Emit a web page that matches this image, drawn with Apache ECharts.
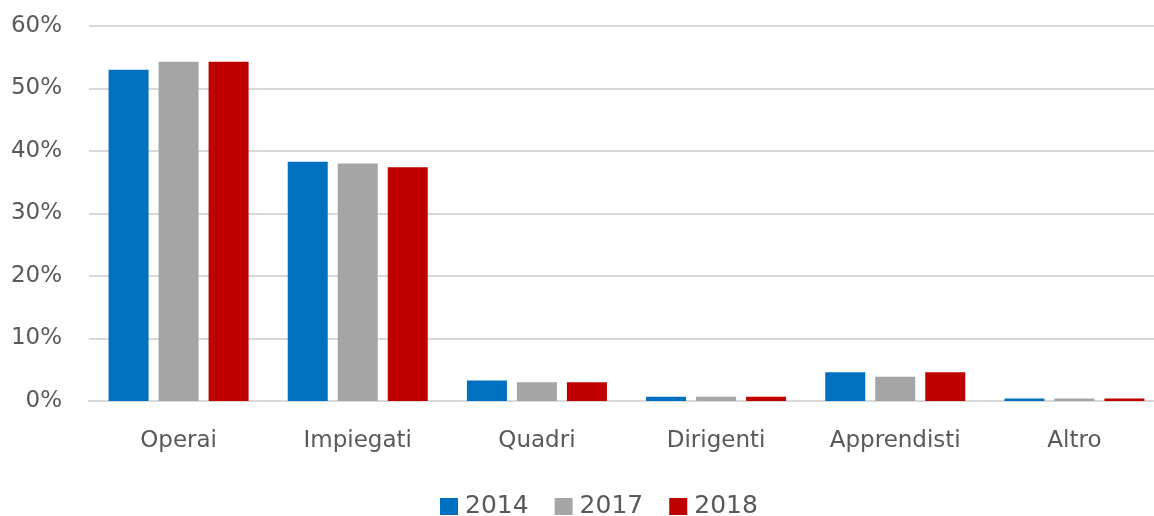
<!DOCTYPE html>
<html>
<head>
<meta charset="utf-8">
<script src="https://cdn.jsdelivr.net/npm/echarts@6/dist/echarts.min.js"></script>
<style>
html,body{margin:0;padding:0;background:#fff;overflow:hidden;}
#chart{width:1165px;height:516px;}
</style>
</head>
<body>
<div id="chart"></div>
<script>
const categories = ['Operai', 'Impiegati', 'Quadri', 'Dirigenti', 'Apprendisti', 'Altro'];
const years = ['2014', '2017', '2018'];
const values2014 = [53.0, 38.3, 3.3, 0.7, 4.6, 0.4];
const values2017 = [54.3, 38.0, 3.0, 0.7, 3.9, 0.4];
const values2018 = [54.3, 37.4, 3.0, 0.7, 4.6, 0.4];
const colors = ['#0070C0', '#A5A5A5', '#C00000'];

const seriesValues = [values2014, values2017, values2018];
const font = '"DejaVu Sans", sans-serif';

const chart = echarts.init(document.getElementById('chart'));
chart.setOption({
  animation: false,
  textStyle: { fontFamily: font },
  legend: {
    data: years,
    top: 494,
    left: 440,
    padding: 0,
    itemWidth: 18,
    itemHeight: 17,
    itemGap: 26,
    icon: 'rect',
    textStyle: { fontSize: 25, color: '#595959', fontFamily: font, padding: [0, 0, 0, 2] }
  },
  grid: { left: 89, right: 1, top: 26, height: 375, containLabel: false },
  xAxis: {
    type: 'category',
    data: categories,
    axisTick: { show: false },
    axisLine: { lineStyle: { color: '#d9d9d9', width: 2 } },
    axisLabel: { fontSize: 23, color: '#595959', margin: 29, fontFamily: font }
  },
  yAxis: {
    type: 'value',
    min: 0,
    max: 60,
    interval: 10,
    axisLine: { show: false },
    axisTick: { show: false },
    splitLine: { lineStyle: { color: '#d9d9d9', width: 2 } },
    axisLabel: { fontSize: 23, color: '#595959', margin: 27, formatter: '{value}%', fontFamily: font }
  },
  series: years.map((y, i) => ({
    name: y,
    type: 'bar',
    data: seriesValues[i],
    barWidth: 40,
    barGap: '25%',
    itemStyle: { color: colors[i] }
  }))
});
</script>
</body>
</html>
